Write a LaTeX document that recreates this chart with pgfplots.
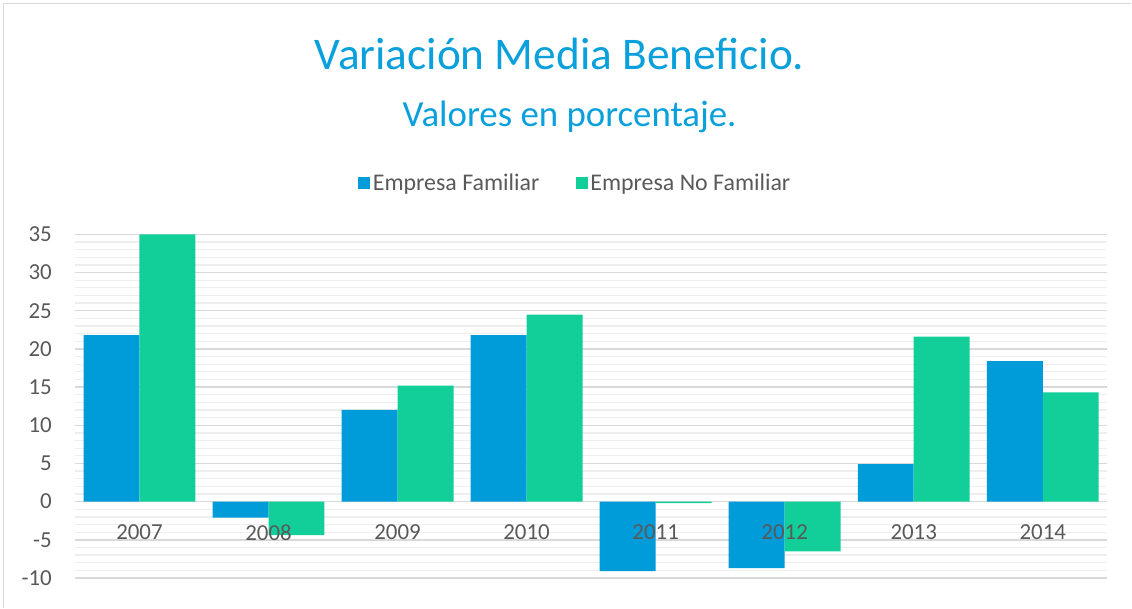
\documentclass[border=0pt]{standalone}
\usepackage{pgfplots}
\pgfplotsset{compat=1.18}
\usepackage{fontspec}
\setmainfont{Carlito}
\definecolor{bblue}{RGB}{0,155,217}
\definecolor{bgreen}{RGB}{18,207,154}
\definecolor{tblue}{RGB}{10,160,220}
\definecolor{tgray}{RGB}{89,89,89}
\definecolor{majg}{RGB}{217,217,217}
\definecolor{ming}{RGB}{238,238,238}
\begin{document}
\begin{tikzpicture}[x=1bp,y=1bp]
\path (0,0) rectangle (1132,608);
\draw[color=majg, line width=1.5bp] (3.5,0) -- (3.5,604.5) -- (1132,604.5);
\node[anchor=base, text=tblue, inner sep=0pt, font=\fontsize{45.5}{50}\selectfont] at (560,538) {Variación Media Beneficio.};
\node[anchor=base, text=tblue, inner sep=0pt, font=\fontsize{37}{42}\selectfont] at (570,481) {Valores en porcentaje.};
\begin{axis}[
  at={(75bp,29.6bp)}, anchor=south west, scale only axis,
  width=1033bp, height=343.9bp,
  xmin=-0.5, xmax=7.5, ymin=-10, ymax=35,
  ybar=0pt, bar width=56bp,
  axis line style={draw=none},
  tick style={draw=none},
  xtick={0,1,2,3,4,5,6,7},
  xticklabels={},
  ytick={-10,-5,0,5,10,15,20,25,30,35},
  minor y tick num=4,
  ymajorgrids, yminorgrids,
  major grid style={line width=1.5bp, color=majg},
  minor grid style={line width=1.3bp, color=ming},
  /pgf/number format/assume math mode=true,
  ticklabel style={font=\fontsize{23}{27}\selectfont, text=tgray},
  yticklabel style={anchor=east, inner sep=0pt, xshift=-23bp},
  legend style={at={(0.485,1.1497)}, anchor=center, draw=none, fill=none,
    font=\fontsize{24}{28}\selectfont, text=tgray,
    nodes={inner sep=2.5bp},
    /tikz/every even column/.append style={column sep=34bp}},
  legend columns=2,
  legend image code/.code={\fill[#1] (0bp,-6bp) rectangle (12bp,6bp);},
  clip=false,
]
\addplot[fill=bblue, draw=none] coordinates {(0,21.8) (1,-2.1) (2,12.0) (3,21.8) (4,-9.1) (5,-8.7) (6,4.9) (7,18.4)};
\addplot[fill=bgreen, draw=none] coordinates {(0,35.0) (1,-4.4) (2,15.2) (3,24.5) (4,-0.2) (5,-6.5) (6,21.6) (7,14.3)};
\legend{Empresa Familiar, Empresa No Familiar}
\tikzset{yl/.style={anchor=center, inner sep=0pt, text=tgray, font=\fontsize{23}{27}\selectfont}}
\node[yl] at (axis cs:0,-4.05) {2007};
\node[yl] at (axis cs:1,-4.05) {2008};
\node[yl] at (axis cs:2,-4.05) {2009};
\node[yl] at (axis cs:3,-4.05) {2010};
\node[yl] at (axis cs:4,-4.05) {2011};
\node[yl] at (axis cs:5,-4.05) {2012};
\node[yl] at (axis cs:6,-4.05) {2013};
\node[yl] at (axis cs:7,-4.05) {2014};
\end{axis}
\end{tikzpicture}
\end{document}
